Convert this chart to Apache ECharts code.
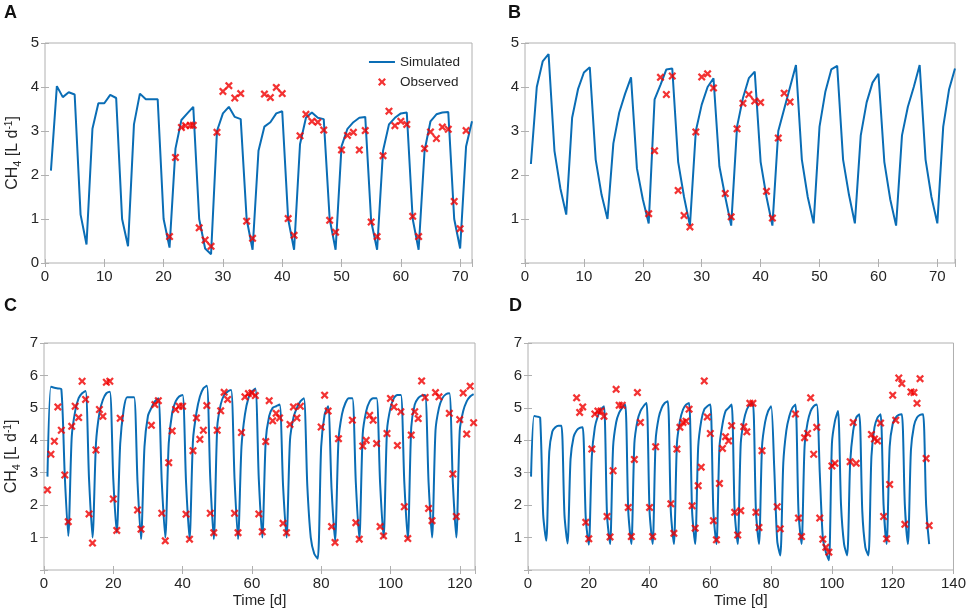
<!DOCTYPE html>
<html>
<head>
<meta charset="utf-8">
<script src="https://cdn.jsdelivr.net/npm/echarts/dist/echarts.min.js"></script>
<style>
  html, body { margin: 0; padding: 0; background: #fff; }
  #main { width: 969px; height: 612px; }
</style>
</head>
<body>
<div id="main"></div>
<script>
// simulated CH4, one value per day starting at day 1
var simA = [2.1, 4.02, 3.77, 3.88, 3.83, 1.1, 0.42, 3.05, 3.63, 3.63, 3.82, 3.75, 1.0, 0.38,
  3.15, 3.85, 3.72, 3.72, 3.72, 1.0, 0.35, 2.6, 3.25, 3.4, 3.55, 1.0, 0.33, 0.2,
  3.0, 3.4, 3.55, 3.32, 3.27, 1.0, 0.3, 2.55, 3.1, 3.2, 3.4, 3.45, 1.0, 0.3,
  2.7, 3.3, 3.42, 3.3, 3.27, 1.0, 0.3, 2.65, 3.05, 3.2, 3.3, 3.32, 0.95, 0.3,
  2.55, 3.15, 3.3, 3.4, 3.42, 1.0, 0.3, 2.55, 3.22, 3.38, 3.42, 3.43, 1.0, 0.33,
  2.65, 3.22];
var simB = [2.25, 4.0, 4.58, 4.75, 2.55, 1.7, 1.1, 3.3, 3.95, 4.33, 4.45, 2.35, 1.55, 1.0,
  2.72, 3.42, 3.85, 4.22, 2.15, 1.45, 0.9, 3.72, 4.05, 4.4, 4.42, 2.3, 1.5, 0.85,
  3.0, 3.6, 4.0, 4.2, 2.2, 1.5, 0.85, 3.1, 3.75, 4.2, 4.35, 2.3, 1.5, 0.85,
  3.0, 3.5, 4.0, 4.5, 2.35, 1.5, 0.9, 3.1, 3.9, 4.4, 4.48, 2.35, 1.55, 0.9,
  2.9, 3.65, 4.1, 4.3, 2.3, 1.45, 0.85, 2.9, 3.55, 4.0, 4.5, 2.35, 1.5, 0.9,
  3.1, 3.95, 4.42];
var simC = [2.88, 5.65, 5.62, 5.6, 5.58, 2.9, 1.05, 4.1, 4.9, 5.3, 5.45, 5.52, 2.8, 1.0,
  3.9, 4.85, 5.25, 5.45, 5.5, 2.8, 1.15, 3.9, 4.95, 5.33, 5.33, 5.33, 2.7, 0.95,
  3.8, 4.75, 5.0, 5.2, 5.3, 2.7, 1.0, 3.9, 4.85, 5.2, 5.35, 5.4, 2.7, 0.95,
  4.0, 4.85, 5.35, 5.6, 5.68, 2.8, 0.95, 4.4, 5.1, 5.4, 5.5, 5.55, 2.8, 0.95,
  3.8, 4.8, 5.3, 5.5, 5.6, 2.8, 1.0, 4.0, 4.75, 5.0, 5.05, 5.1, 2.6, 1.0,
  4.0, 4.7, 5.0, 5.2, 5.3, 2.6, 1.0, 0.5, 0.35, 3.8, 4.8, 5.05, 2.5, 0.9,
  4.0, 4.8, 5.15, 5.3, 5.3, 2.7, 0.95, 4.2, 4.9, 5.2, 5.3, 5.3, 2.7, 1.0,
  4.3, 5.0, 5.3, 5.4, 5.4, 2.7, 0.95, 4.4, 5.1, 5.3, 5.38, 5.4, 2.7, 1.0,
  4.3, 5.0, 5.3, 5.42, 5.45, 2.7, 1.0, 4.3, 4.9, 5.2, 5.35, 5.42];
var simD = [2.88, 4.75, 4.73, 4.7, 1.7, 0.9, 3.65, 4.27, 4.4, 4.45, 4.45, 1.7, 0.82,
  3.42, 4.1, 4.3, 4.38, 4.4, 1.6, 0.78, 3.5, 4.4, 4.75, 4.95, 5.05, 1.7, 0.8,
  3.8, 4.55, 4.85, 5.0, 5.1, 1.8, 0.8, 3.9, 4.6, 4.9, 5.05, 5.15, 1.8, 0.8,
  4.0, 4.7, 5.0, 5.15, 5.2, 1.8, 0.8, 3.9, 4.6, 4.95, 5.1, 5.15, 1.8, 0.8,
  3.8, 4.6, 4.95, 5.05, 5.1, 1.8, 0.8, 3.8, 4.5, 4.9, 5.0, 5.1, 1.8, 0.8,
  3.9, 4.6, 4.95, 5.1, 5.15, 1.8, 0.8, 3.8, 4.55, 4.9, 5.05, 3.2, 0.9, 0.45,
  3.3, 4.3, 4.75, 5.0, 5.1, 1.8, 0.8, 3.8, 4.55, 4.9, 5.05, 5.1, 3.0, 1.0, 0.55, 0.3,
  3.9, 4.6, 4.9, 2.0, 0.8, 0.45, 3.3, 4.3, 4.7, 4.8, 1.8, 0.7, 0.45,
  3.5, 4.4, 4.7, 4.8, 2.0, 0.8, 3.8, 4.5, 4.7, 4.78, 4.8, 2.0, 0.8,
  3.7, 4.45, 4.7, 4.78, 4.8, 2.0, 0.8];

// observed CH4 as [day, value]
var obsA = [[21, 0.6], [22, 2.4], [23, 3.08], [23.7, 3.12], [24.5, 3.13], [25, 3.13], [26, 0.8],
  [27, 0.52], [28, 0.38], [29, 2.97], [30, 3.9], [31, 4.03], [32, 3.75], [33, 3.85], [34, 0.95],
  [35, 0.56], [37, 3.84], [38, 3.76], [39, 3.99], [40, 3.85], [41, 1.01], [42, 0.63], [43, 2.89],
  [44, 3.38], [45, 3.22], [46, 3.2], [47, 3.02], [48, 0.97], [49, 0.7], [50, 2.57], [51, 2.9],
  [52, 2.97], [53, 2.57], [54, 3.01], [55, 0.93], [56, 0.6], [57, 2.44], [58, 3.45], [59, 3.12],
  [60, 3.22], [61, 3.15], [62, 1.06], [63, 0.6], [64, 2.6], [65, 2.98], [66, 2.83], [67, 3.09],
  [68, 3.04], [69, 1.4], [70, 0.78], [71, 3.01]];
var obsB = [[21, 1.12], [22, 2.55], [23, 4.22], [24, 3.83], [25, 4.25], [26, 1.65], [27, 1.08],
  [28, 0.82], [29, 2.98], [30, 4.23], [31, 4.3], [32, 3.98], [34, 1.58], [35, 1.05], [36, 3.05],
  [37, 3.63], [38, 3.83], [39, 3.68], [40, 3.65], [41, 1.63], [42, 1.02], [43, 2.84], [44, 3.86],
  [45, 3.66]];
var obsC = [[1, 2.47], [2, 3.57], [3, 3.97], [4, 5.03], [5, 4.31], [6, 2.93], [7, 1.49], [8, 4.43],
  [9, 5.05], [10, 4.7], [11, 5.82], [12, 5.26], [13, 1.73], [14, 0.83], [15, 3.7], [16, 4.95],
  [17, 4.74], [18, 5.79], [19, 5.82], [20, 2.19], [21, 1.22], [22, 4.68], [27, 1.85], [28, 1.26],
  [31, 4.46], [32, 5.1], [33, 5.22], [34, 1.75], [35, 0.9], [36, 3.31], [37, 4.29], [38, 4.95],
  [39, 5.05], [40, 5.05], [41, 1.72], [42, 0.95], [43, 3.68], [44, 4.69], [45, 4.03], [46, 4.31],
  [47, 5.07], [48, 1.75], [49, 1.15], [50, 4.31], [51, 4.91], [52, 5.48], [53, 5.26], [55, 1.75],
  [56, 1.15], [57, 4.24], [58, 5.34], [59, 5.44], [60, 5.46], [61, 5.38], [62, 1.73], [63, 1.18],
  [64, 3.96], [65, 5.22], [66, 4.6], [67, 4.83], [68, 4.69], [69, 1.44], [70, 1.15], [71, 4.49],
  [72, 5.03], [73, 4.69], [74, 5.05], [80, 4.41], [81, 5.39], [82, 4.9], [83, 1.34], [84, 0.85],
  [85, 4.05], [89, 4.62], [90, 1.46], [91, 0.95], [92, 3.82], [93, 4.0], [94, 4.77], [95, 4.62],
  [96, 3.9], [97, 1.34], [98, 1.05], [99, 4.21], [100, 5.29], [101, 5.03], [102, 3.84], [103, 4.88],
  [104, 1.95], [105, 0.97], [106, 4.16], [107, 4.88], [108, 4.67], [109, 5.83], [110, 5.32],
  [111, 1.9], [112, 1.52], [113, 5.47], [114, 5.34], [117, 4.83], [118, 2.96], [119, 1.65],
  [120, 4.64], [121, 5.46], [122, 4.19], [123, 5.67], [124, 4.54]];
var obsD = [[16, 5.31], [17, 4.86], [18, 5.03], [19, 1.47], [20, 0.96], [21, 3.73], [22, 4.81],
  [23, 4.9], [24, 4.9], [25, 4.74], [26, 1.65], [27, 1.02], [28, 3.06], [29, 5.57], [30, 5.08],
  [31, 5.08], [33, 1.93], [34, 1.03], [35, 3.41], [36, 5.47], [37, 4.55], [40, 1.93], [41, 1.03],
  [42, 3.8], [47, 2.04], [48, 1.13], [49, 3.73], [50, 4.4], [51, 4.55], [52, 4.59], [53, 4.96],
  [54, 1.98], [55, 1.29], [56, 2.6], [57, 3.17], [58, 5.83], [59, 4.72], [60, 4.21], [61, 1.52],
  [62, 0.93], [63, 2.67], [64, 3.75], [65, 4.11], [66, 3.98], [67, 4.45], [68, 1.78], [69, 1.08],
  [70, 1.83], [71, 4.42], [72, 4.26], [73, 5.14], [74, 5.14], [75, 1.78], [76, 1.31], [77, 3.68],
  [82, 1.95], [83, 1.27], [88, 4.81], [89, 1.6], [90, 1.03], [91, 4.08], [92, 4.21], [93, 5.31],
  [94, 3.57], [95, 4.4], [96, 1.6], [97, 0.95], [98, 0.7], [99, 0.55], [100, 3.21], [101, 3.29],
  [106, 3.34], [107, 4.55], [108, 3.29], [113, 4.18], [114, 4.04], [115, 3.98], [116, 4.53],
  [117, 1.65], [118, 0.96], [119, 2.64], [120, 5.39], [121, 4.62], [122, 5.92], [123, 5.75],
  [124, 1.41], [126, 5.49], [127, 5.47], [128, 5.14], [129, 5.9], [131, 3.44], [132, 1.37]];

// axis ranges per panel
var xMax = [72, 73, 124.4, 140];
var xStep = [10, 10, 20, 20];
var yMax = [5, 5, 7, 7];

var chartDom = document.getElementById('main');
var myChart = echarts.init(chartDom);

var frame = '#b0b0b0';
var txt = '#262626';
var font = 'Liberation Sans';
var grids = [
  { left: 45, top: 43, width: 427, height: 220 },
  { left: 525, top: 43, width: 430, height: 220 },
  { left: 44, top: 343, width: 431, height: 227 },
  { left: 528, top: 343, width: 427, height: 227 }
];

function toPairs(arr) {
  return arr.map(function (v, i) { return [i + 1, v]; });
}

var xAxes = [], yAxes = [], series = [];
var yName = '{t|CH}{s|4}{t| [L d}{p|-1}{t|]}';

// builds the box-style axes (ticks inside, labels only bottom/left) of one panel
function addPanelAxes(i) {
  var step = xStep[i];
  var hideZeroY = i > 0;
  grids[i].show = true;
  grids[i].borderColor = frame;
  grids[i].borderWidth = 1;
  ['bottom', 'top'].forEach(function (pos) {
    xAxes.push({
      gridIndex: i, type: 'value', position: pos, min: 0, max: xMax[i], interval: step,
      axisLine: { show: false },
      axisTick: { inside: true, length: 4, lineStyle: { color: frame } },
      splitLine: { show: false },
      axisLabel: {
        show: pos === 'bottom', color: txt, fontSize: 15, fontFamily: font, margin: 6,
        formatter: function (v) { return v % step === 0 ? String(v) : ''; }
      },
      name: (pos === 'bottom' && i >= 2) ? 'Time [d]' : '',
      nameLocation: 'middle', nameGap: 23,
      nameTextStyle: { color: txt, fontSize: 15, fontFamily: font }
    });
  });
  ['left', 'right'].forEach(function (pos) {
    yAxes.push({
      gridIndex: i, type: 'value', position: pos, min: 0, max: yMax[i], interval: 1,
      axisLine: { show: false },
      axisTick: { inside: true, length: 4, lineStyle: { color: frame } },
      splitLine: { show: false },
      axisLabel: {
        show: pos === 'left', color: txt, fontSize: 15, fontFamily: font, margin: 6,
        formatter: function (v) { return (hideZeroY && v === 0) ? '' : String(v); }
      },
      name: (pos === 'left' && (i === 0 || i === 2)) ? yName : '',
      nameLocation: 'middle', nameRotate: 90, nameGap: 22,
      nameTextStyle: {
        color: txt, fontFamily: font,
        rich: {
          t: { fontSize: 16, color: txt, fontFamily: font },
          s: { fontSize: 11, color: txt, fontFamily: font, padding: [9, 0, 0, 0] },
          p: { fontSize: 10, color: txt, fontFamily: font, padding: [0, 0, 8, 0] }
        }
      }
    });
  });
}

for (var i = 0; i < 4; i++) {
  addPanelAxes(i);
}

var simAll = [simA, simB, simC, simD];
var obsAll = [obsA, obsB, obsC, obsD];
var xSymbol = 'path://M0,2L2,0L5,3L8,0L10,2L7,5L10,8L8,10L5,7L2,10L0,8L3,5Z';
var blue = '#0a6db5';
var red = '#f00000';

for (var k = 0; k < 4; k++) {
  series.push({
    name: 'Simulated', type: 'line', xAxisIndex: k * 2, yAxisIndex: k * 2,
    data: toPairs(simAll[k]), showSymbol: false, symbol: 'none',
    smooth: k >= 2 ? 0.25 : false,
    lineStyle: { color: blue, width: 2 }, itemStyle: { color: blue },
    z: 2
  });
  series.push({
    name: 'Observed', type: 'scatter', xAxisIndex: k * 2, yAxisIndex: k * 2,
    data: obsAll[k], symbol: xSymbol, symbolSize: 8,
    itemStyle: { color: red }, z: 3
  });
}

var option = {
  backgroundColor: '#fff',
  animation: false,
  grid: grids,
  xAxis: xAxes,
  yAxis: yAxes,
  series: series,
  legend: {
    orient: 'vertical', right: 504, top: 50, itemWidth: 26, itemHeight: 8, itemGap: 6,
    textStyle: { color: txt, fontSize: 13.5, fontFamily: font },
    data: [
      { name: 'Simulated', icon: 'path://M0,0L26,0L26,2L0,2Z' },
      { name: 'Observed', icon: xSymbol }
    ]
  },
  graphic: [
    { type: 'text', left: 4, top: 4, style: { text: 'A', font: 'bold 18px Liberation Sans', fill: '#111' } },
    { type: 'text', left: 508, top: 4, style: { text: 'B', font: 'bold 18px Liberation Sans', fill: '#111' } },
    { type: 'text', left: 4, top: 297, style: { text: 'C', font: 'bold 18px Liberation Sans', fill: '#111' } },
    { type: 'text', left: 509, top: 297, style: { text: 'D', font: 'bold 18px Liberation Sans', fill: '#111' } }
  ]
};

option && myChart.setOption(option);
</script>
</body>
</html>
